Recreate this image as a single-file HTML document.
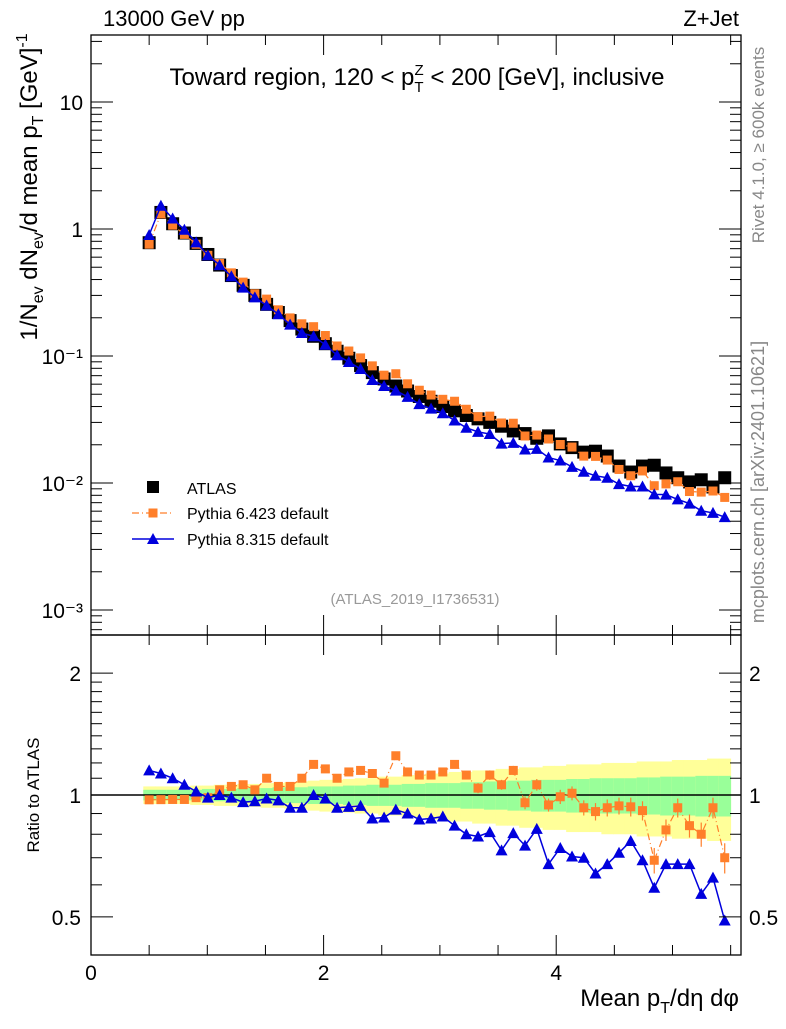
<!DOCTYPE html>
<html><head><meta charset="utf-8"><style>
body{margin:0;background:#fff;}
svg text{font-family:"Liberation Sans",Arial,sans-serif;}
</style></head><body>
<svg id="c" width="786" height="1024" viewBox="0 0 786 1024" xmlns="http://www.w3.org/2000/svg"></svg>
<script>
const xCenters=[0.5,0.601,0.702,0.803,0.904,1.005,1.106,1.207,1.308,1.409,1.51,1.611,1.712,1.813,1.914,2.015,2.116,2.217,2.318,2.419,2.52,2.621,2.722,2.823,2.924,3.025,3.126,3.227,3.328,3.429,3.53,3.631,3.732,3.833,3.934,4.035,4.136,4.237,4.338,4.439,4.54,4.641,4.742,4.843,4.944,5.045,5.146,5.247,5.348,5.449];
const atlasVals=[0.78,1.35,1.1,0.93,0.77,0.63,0.52,0.43,0.36,0.30,0.255,0.22,0.19,0.163,0.143,0.125,0.109,0.096,0.084,0.074,0.066,0.058,0.053,0.048,0.044,0.040,0.037,0.034,0.032,0.030,0.028,0.0257,0.0245,0.0225,0.0235,0.0203,0.019,0.0175,0.0178,0.0163,0.0136,0.0122,0.0136,0.0138,0.012,0.011,0.0102,0.0106,0.0093,0.011];
const py6Ratio=[0.973,0.974,0.975,0.975,0.985,0.985,1.03,1.05,1.06,1.03,1.10,1.05,1.05,1.10,1.19,1.16,1.10,1.14,1.15,1.13,1.07,1.25,1.14,1.12,1.12,1.14,1.19,1.12,1.04,1.12,1.06,1.15,0.957,1.06,0.945,0.99,1.01,0.93,0.91,0.93,0.94,0.935,0.915,0.69,0.82,0.93,0.84,0.80,0.93,0.70];
const py6Err=[0.01,0.01,0.01,0.01,0.01,0.01,0.01,0.01,0.01,0.01,0.01,0.01,0.01,0.01,0.015,0.015,0.015,0.015,0.015,0.015,0.02,0.02,0.02,0.02,0.02,0.025,0.025,0.025,0.03,0.03,0.03,0.03,0.035,0.035,0.035,0.04,0.04,0.04,0.045,0.045,0.045,0.05,0.05,0.05,0.05,0.05,0.055,0.055,0.055,0.06];
const py8Ratio=[1.15,1.13,1.10,1.06,1.02,0.985,1.0,0.985,0.96,0.965,0.98,0.97,0.93,0.93,1.0,0.98,0.93,0.935,0.94,0.875,0.88,0.92,0.90,0.87,0.875,0.885,0.84,0.80,0.79,0.81,0.73,0.805,0.75,0.825,0.675,0.74,0.705,0.70,0.64,0.675,0.72,0.77,0.69,0.59,0.675,0.675,0.675,0.57,0.625,0.49];
const bandYellow=[0.05,0.05,0.05,0.05,0.055,0.055,0.06,0.06,0.065,0.065,0.07,0.07,0.075,0.08,0.085,0.09,0.09,0.095,0.10,0.10,0.11,0.11,0.12,0.12,0.13,0.13,0.14,0.14,0.15,0.15,0.16,0.16,0.17,0.17,0.18,0.18,0.19,0.19,0.19,0.20,0.20,0.20,0.21,0.21,0.21,0.22,0.22,0.22,0.23,0.23];
const bandGreen=[0.03,0.03,0.03,0.03,0.03,0.035,0.035,0.035,0.04,0.04,0.04,0.045,0.045,0.045,0.05,0.05,0.05,0.055,0.055,0.06,0.06,0.06,0.065,0.065,0.07,0.07,0.07,0.075,0.075,0.08,0.08,0.085,0.085,0.09,0.09,0.09,0.095,0.095,0.10,0.10,0.10,0.10,0.105,0.105,0.11,0.11,0.11,0.115,0.115,0.115];
const mainTicks=["10\u207B\u00B3","10\u207B\u00B2","10\u207B\u00B9","1","10"];
const xTickLabels=["0","2","4"];

const NS="http://www.w3.org/2000/svg";
const svg=document.getElementById('c');
const L=91,R=741,T=35,MB=635,RB=955;
const sx=v=>L+v*116.3;
const sy=v=>229-127*Math.log10(v);
const ry=v=>795-405*Math.log10(v);
function mk(tag,attrs,parent){const e=document.createElementNS(NS,tag);for(const k in attrs)e.setAttribute(k,attrs[k]);(parent||svg).appendChild(e);return e;}
function txt(s,attrs,parent){const e=mk('text',attrs,parent);e.textContent=s;return e;}

const gb=mk('g',{});


xCenters.forEach((x,i)=>{
  const x0=sx(x-0.0505),x1=sx(x+0.0505);
  const y=mk('rect',{x:x0,y:ry(1+bandYellow[i]),width:x1-x0+0.5,height:ry(1-bandYellow[i])-ry(1+bandYellow[i]),fill:'#ffff99'},gb);
  
  
  const g=mk('rect',{x:x0,y:ry(1+bandGreen[i]),width:x1-x0+0.5,height:ry(1-bandGreen[i])-ry(1+bandGreen[i]),fill:'#99ff99'},gb);
  
  
});
mk('line',{x1:L,x2:R,y1:ry(1),y2:ry(1),stroke:'#000','stroke-width':1.5});

const py6Vals=atlasVals.map((v,i)=>v*py6Ratio[i]);
const py8Vals=atlasVals.map((v,i)=>v*py8Ratio[i]);
const gm=mk('g',{});


xCenters.forEach((x,i)=>{
  const s=mk('rect',{x:sx(x)-6.5,y:sy(atlasVals[i])-6.5,width:13,height:13,fill:'#000'},gm);
  
  
});
function series(vals,fy,color,dash,marker,g,name){
  const pts=xCenters.map((x,i)=>sx(x)+','+fy(vals[i])).join(' ');
  const pl=mk('polyline',{points:pts,fill:'none',stroke:color,'stroke-width':dash?1.2:1.5,'stroke-dasharray':dash||'none'},g);
  
  
  xCenters.forEach((x,i)=>{
    const cx=sx(x),cy=fy(vals[i]);
    let m;
    if(marker==='sq') m=mk('rect',{x:cx-4.5,y:cy-4.5,width:9,height:9,fill:color},g);
    else m=mk('polygon',{points:`${cx-6},${cy+5} ${cx+6},${cy+5} ${cx},${cy-6}`,fill:color},g);
    
    
  });
}
series(py6Vals,sy,'#ff7f2a','7,3,1,3','sq',gm,'pythia6');
series(py8Vals,sy,'#0000dd',null,'tri',gm,'pythia8');

const gr=mk('g',{});


xCenters.forEach((x,i)=>{
  const e=mk('line',{x1:sx(x),x2:sx(x),y1:ry(py6Ratio[i]+py6Err[i]),y2:ry(py6Ratio[i]-py6Err[i]),stroke:'#ff7f2a','stroke-width':1.2},gr);
  
  
});
series(py6Ratio,ry,'#ff7f2a','7,3,1,3','sq',gr,'pythia6-ratio');
series(py8Ratio,ry,'#0000dd',null,'tri',gr,'pythia8-ratio');

mk('rect',{x:L,y:T,width:R-L,height:MB-T,fill:'none',stroke:'#000','stroke-width':1.3});
mk('rect',{x:L,y:MB,width:R-L,height:RB-MB,fill:'none',stroke:'#000','stroke-width':1.3});

const ax=mk('g',{stroke:'#000','stroke-width':1});


for(let d=-3;d<=1;d++){
  const y=sy(Math.pow(10,d));
  mk('line',{x1:L,x2:L+22,y1:y,y2:y},ax);mk('line',{x1:R,x2:R-22,y1:y,y2:y},ax);
  for(let k=2;k<=9;k++){const v=k*Math.pow(10,d);const yy=sy(v);if(yy<T)continue;
    mk('line',{x1:L,x2:L+11,y1:yy,y2:yy},ax);mk('line',{x1:R,x2:R-11,y1:yy,y2:yy},ax);}
}
for(let k=2;k<=9;k++){const yy=sy(k*1e-4);if(yy<MB){mk('line',{x1:L,x2:L+11,y1:yy,y2:yy},ax);mk('line',{x1:R,x2:R-11,y1:yy,y2:yy},ax);}}
mainTicks.forEach((t,i)=>{
  const l=txt(t,{x:L-8,y:sy(Math.pow(10,i-3))+8,'text-anchor':'end','font-size':21,fill:'#000',stroke:'none'});
  
  
});
for(let j=0;j<=11;j++){
  const v=j*0.5;const x=sx(v);if(x>R)break;const maj=(j%4===0);
  const len=maj?20:10;
  mk('line',{x1:x,x2:x,y1:MB,y2:MB-len},ax);mk('line',{x1:x,x2:x,y1:T,y2:T+len},ax);
  mk('line',{x1:x,x2:x,y1:RB,y2:RB-len},ax);mk('line',{x1:x,x2:x,y1:MB,y2:MB+len},ax);
}
xTickLabels.forEach((t,i)=>{
  const l=txt(t,{x:sx(i*2),y:980,'text-anchor':'middle','font-size':21});
  
  
});
[0.5,1,2].forEach(v=>{const y=ry(v);mk('line',{x1:L,x2:L+22,y1:y,y2:y},ax);mk('line',{x1:R,x2:R-22,y1:y,y2:y},ax);
  const a=txt(String(v),{x:L-10,y:y+8,'text-anchor':'end','font-size':21});
  const b=txt(String(v),{x:R+8,y:y+8,'text-anchor':'start','font-size':21});});
[0.6,0.7,0.8,0.9,1.1,1.2,1.3,1.4,1.5,1.6,1.7,1.8,1.9].forEach(v=>{const y=ry(v);mk('line',{x1:L,x2:L+11,y1:y,y2:y},ax);mk('line',{x1:R,x2:R-11,y1:y,y2:y},ax);});
</script>
<svg width="786" height="1024" style="position:absolute;left:0;top:0" xmlns="http://www.w3.org/2000/svg">
<text x="103" y="26" font-size="22">13000 GeV pp</text>
<text x="739" y="26" font-size="22" text-anchor="end">Z+Jet</text>
<text x="417" y="85" font-size="24" text-anchor="middle">Toward region, 120 &lt; p<tspan font-size="15" dy="7">T</tspan><tspan font-size="15" dx="-9" dy="-17">Z</tspan><tspan dy="10"> &lt; 200 [GeV], inclusive</tspan></text>
<text transform="translate(37,187) rotate(-90)" font-size="24" text-anchor="middle">1/N<tspan font-size="16" dy="6">ev</tspan><tspan dy="-6"> dN</tspan><tspan font-size="16" dy="6">ev</tspan><tspan dy="-6">/d mean p</tspan><tspan font-size="16" dy="6">T</tspan><tspan dy="-6">  [GeV]</tspan><tspan font-size="16" dy="-10">-1</tspan></text>
<text transform="translate(39,795) rotate(-90)" font-size="17" text-anchor="middle">Ratio to ATLAS</text>
<text x="739" y="1006" font-size="24" text-anchor="end">Mean p<tspan font-size="16" dy="7">T</tspan><tspan dy="-7">/dη dφ</tspan></text>
<text transform="translate(764,145) rotate(-90)" font-size="17" fill="#888" text-anchor="middle">Rivet 4.1.0, ≥ 600k events</text>
<text transform="translate(764,482) rotate(-90)" font-size="18" fill="#888" text-anchor="middle">mcplots.cern.ch [arXiv:2401.10621]</text>
<text x="415" y="604" font-size="15" fill="#999" text-anchor="middle">(ATLAS_2019_I1736531)</text>
<g>
<rect x="147" y="481" width="12" height="12" fill="#000"/>
<text x="187" y="494" font-size="16">ATLAS</text>
<line x1="132" x2="174" y1="513" y2="513" stroke="#ff7f2a" stroke-width="1.2" stroke-dasharray="7,3,1,3"/>
<rect x="148.5" y="508.5" width="9" height="9" fill="#ff7f2a"/>
<text x="187" y="519" font-size="16">Pythia 6.423 default</text>
<line x1="132" x2="174" y1="539" y2="539" stroke="#0000dd" stroke-width="1.5"/>
<polygon points="147,544 159,544 153,533" fill="#0000dd"/>
<text x="187" y="545" font-size="16">Pythia 8.315 default</text>
</g>
</svg>
</body></html>
